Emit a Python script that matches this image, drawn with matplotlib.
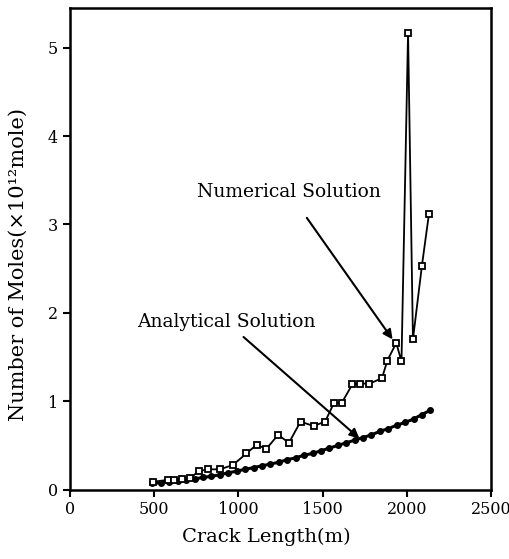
import matplotlib
matplotlib.use('Agg')
import matplotlib.pyplot as plt

# Numerical solution (open squares)
num_x = [493, 580, 618, 668, 715, 764, 822, 891, 968, 1048, 1109, 1165, 1236,
         1300, 1369, 1446, 1515, 1567, 1613, 1676, 1720, 1778, 1852, 1884,
         1937, 1968, 2007, 2036, 2089, 2131]
num_y = [0.09, 0.11, 0.11, 0.12, 0.13, 0.21, 0.23, 0.23, 0.28, 0.41, 0.51,
         0.46, 0.62, 0.53, 0.77, 0.72, 0.77, 0.98, 0.98, 1.19, 1.20, 1.20,
         1.26, 1.46, 1.66, 1.45, 5.17, 1.70, 2.53, 3.12]

# Analytical solution (filled markers)
ana_x = [490, 540, 590, 640, 690, 740, 790, 840, 890, 940, 990, 1040, 1090,
         1140, 1190, 1240, 1290, 1340, 1390, 1440, 1490, 1540, 1590, 1640,
         1690, 1740, 1790, 1840, 1890, 1940, 1990, 2040, 2090, 2140]
ana_y = [0.07, 0.08, 0.09, 0.10, 0.11, 0.12, 0.14, 0.15, 0.17, 0.19, 0.21,
         0.23, 0.25, 0.27, 0.29, 0.31, 0.34, 0.36, 0.39, 0.41, 0.44, 0.47,
         0.50, 0.53, 0.56, 0.59, 0.62, 0.66, 0.69, 0.73, 0.76, 0.80, 0.85,
         0.90]

x_ticks = [0, 500, 1000, 1500, 2000, 2500]
y_ticks = [0, 1, 2, 3, 4, 5]

plt.rcParams.update({
    'font.family': 'DejaVu Serif',
    'font.size': 11,
})

fig = plt.figure(figsize=(5.10, 5.59), dpi=100)
ax = fig.add_axes([0.137, 0.124, 0.826, 0.862])

ax.plot(ana_x, ana_y, '-', color='black', linewidth=2.2, marker='o',
        markersize=4, markerfacecolor='black', markeredgecolor='black')
ax.plot(num_x, num_y, '-', color='black', linewidth=1.3, marker='s',
        markersize=4.5, markerfacecolor='white', markeredgecolor='black',
        markeredgewidth=1.3)

ax.annotate('Numerical Solution', xy=(1915, 1.70), xytext=(1300, 3.26),
            ha='center', va='bottom', fontsize=13.5,
            arrowprops=dict(arrowstyle='-|>', color='black', lw=1.5,
                            mutation_scale=14, shrinkA=12, shrinkB=0))
ax.annotate('Analytical Solution', xy=(1718, 0.58), xytext=(926, 1.80),
            ha='center', va='bottom', fontsize=13.5,
            arrowprops=dict(arrowstyle='-|>', color='black', lw=1.5,
                            mutation_scale=14, shrinkA=4, shrinkB=0))

ax.set_xlim(0, 2500)
ax.set_ylim(0, 5.45)
ax.set_xticks(x_ticks)
ax.set_yticks(y_ticks)
ax.tick_params(direction='out', length=5, width=1.5, labelsize=11.5)
ax.tick_params(top=False, right=False)
for s in ax.spines.values():
    s.set_linewidth(1.8)

ax.set_xlabel('Crack Length(m)', fontsize=14)
ax.set_ylabel('Number of Moles(\u00d710\u00b9\u00b2mole)', fontsize=15)
ax.xaxis.set_label_coords(0.466, -0.078)
ax.yaxis.set_label_coords(-0.10, 0.467)

fig.savefig('out.png', dpi=100)
